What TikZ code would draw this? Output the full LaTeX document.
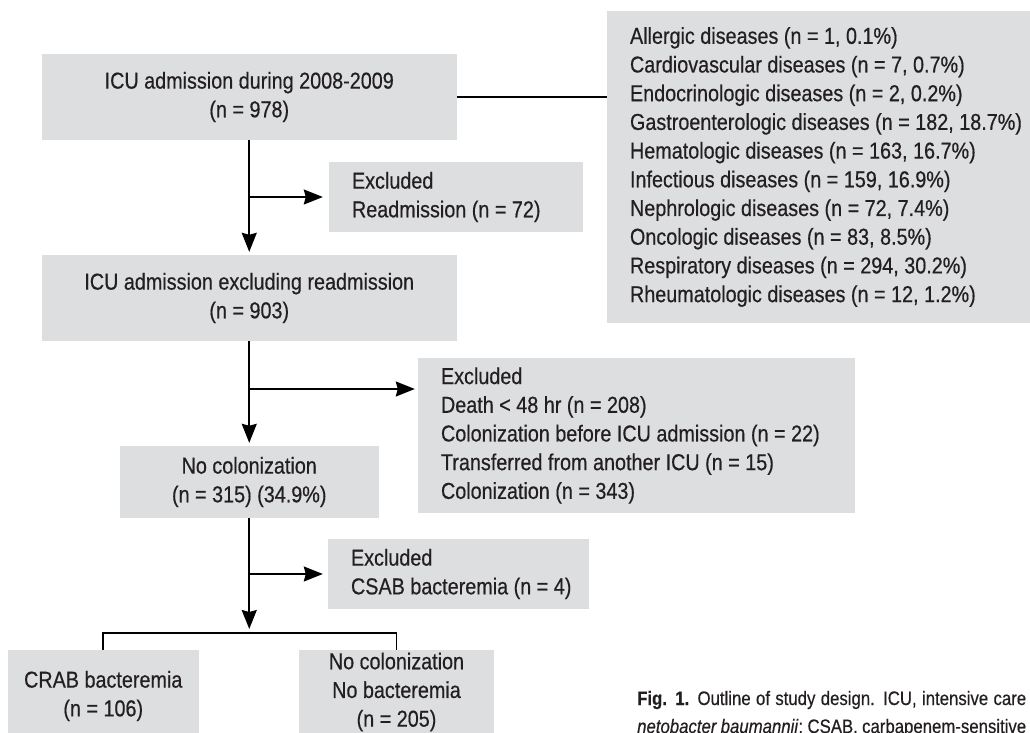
\documentclass[tikz,border=0pt]{standalone}
\usepackage{fontspec}
\setmainfont{Liberation Sans}[FakeStretch=0.86,FakeBold=0.5]
\usetikzlibrary{arrows.meta,calc}
\definecolor{boxgray}{RGB}{221,222,224}
\definecolor{ink}{RGB}{35,31,32}
\begin{document}
\begin{tikzpicture}[x=1pt,y=-1pt,
  every node/.style={font=\fontsize{23}{28.7}\selectfont, text=ink},
  box/.style={fill=boxgray, inner sep=0pt, align=center},
  txt/.style={anchor=west, inner sep=0pt, align=left},
  line/.style={line width=1.8pt, draw=black},
  arr/.style={line, -{Stealth[length=19pt,width=15pt,inset=2pt]}},
  captxt/.style={anchor=west, inner sep=0pt, font=\fontsize{19.5}{29}\selectfont, text=ink}]
\clip (0,0) rectangle (1030,733);
% boxes
\node[box, minimum width=415.5pt, minimum height=85pt] (A) at (249.25,97) {ICU admission during 2008-2009\\(n = 978)};
\node[box, minimum width=453pt, minimum height=312pt] (R) at (833.5,167) {};
\node[txt] (Rt) at ($(R.west)+(23,0)$) {Allergic diseases (n = 1, 0.1\%)\\
Cardiovascular diseases (n = 7, 0.7\%)\\
Endocrinologic diseases (n = 2, 0.2\%)\\
Gastroenterologic diseases (n = 182, 18.7\%)\\
Hematologic diseases (n = 163, 16.7\%)\\
Infectious diseases (n = 159, 16.9\%)\\
Nephrologic diseases (n = 72, 7.4\%)\\
Oncologic diseases (n = 83, 8.5\%)\\
Respiratory diseases (n = 294, 30.2\%)\\
Rheumatologic diseases (n = 12, 1.2\%)};
\node[box, minimum width=254pt, minimum height=70pt] (E1) at (456,197) {};
\node[txt] (E1t) at ($(E1.west)+(23,0)$) {Excluded\\Readmission (n = 72)};
\node[box, minimum width=415.5pt, minimum height=86pt] (B) at (249.25,298) {ICU admission excluding readmission\\(n = 903)};
\node[box, minimum width=437pt, minimum height=155pt] (E2) at (636.5,435.5) {};
\node[txt] (E2t) at ($(E2.west)+(23,0)$) {Excluded\\Death < 48 hr (n = 208)\\Colonization before ICU admission (n = 22)\\Transferred from another ICU (n = 15)\\Colonization (n = 343)};
\node[box, minimum width=258.5pt, minimum height=72pt] (C) at (249.25,482) {No colonization\\(n = 315) (34.9\%)};
\node[box, minimum width=261pt, minimum height=70pt] (E3) at (458.5,574) {};
\node[txt] (E3t) at ($(E3.west)+(23,0)$) {Excluded\\CSAB bacteremia (n = 4)};
\node[box, minimum width=190.5pt, minimum height=92pt] (CRAB) at (103.25,696) {CRAB bacteremia\\(n = 106)};
\node[box, minimum width=195pt, minimum height=84pt] (N) at (396.5,692) {No colonization\\No bacteremia\\(n = 205)};
% caption
\node[captxt] (cap1) at (637,700) {\makebox[389pt][s]{\textbf{Fig. 1.} Outline of study design. ICU, intensive care}};
\node[captxt] (cap2) at (637,728) {\makebox[389pt][s]{\textit{netobacter baumannii}; CSAB, carbapenem-sensitive}};
% connectors
\coordinate (j2) at (249.25,389);
\coordinate (br) at (249.25,633);
\draw[line] (A.east) -- (A.east -| R.west);
\draw[arr, shorten >=3pt] (A.south) -- (B.north);
\draw[arr, shorten >=6pt] (A.south |- E1.west) -- (E1.west);
\draw[arr, shorten >=3pt] (B.south) -- (C.north);
\draw[arr, shorten >=3pt] (j2) -- (j2 -| E2.west);
\draw[arr, shorten >=4pt] (C.south) -- (br);
\draw[arr, shorten >=5pt] (C.south |- E3.west) -- (E3.west);
\draw[line] (CRAB.north) -- (CRAB.north |- br) -- (N.north |- br) -- (N.north);
\end{tikzpicture}
\end{document}
